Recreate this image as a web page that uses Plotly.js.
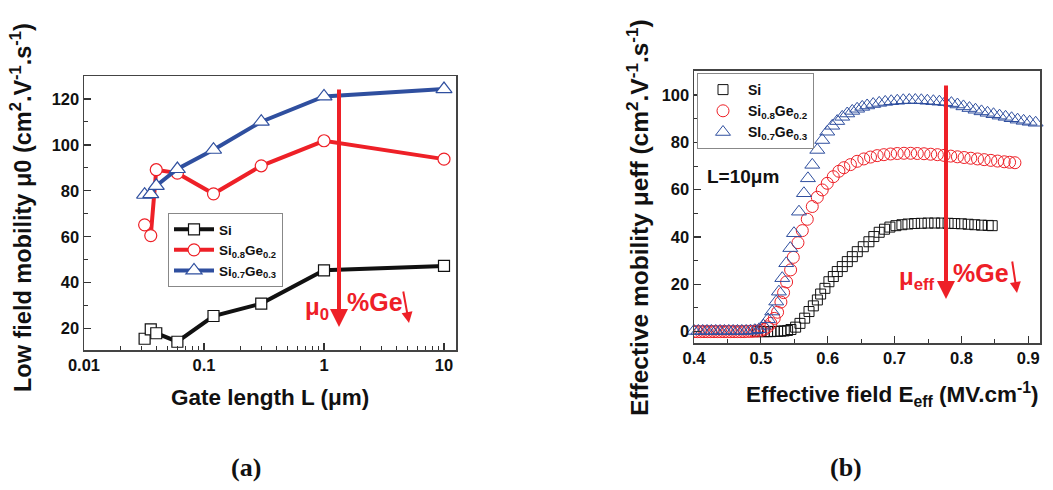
<!DOCTYPE html>
<html>
<head>
<meta charset="utf-8">
<script src="https://cdn.plot.ly/plotly-3.0.1.min.js"></script>
<style>html,body{margin:0;padding:0;background:#fff;}#chart{width:1053px;height:490px;}</style>
</head>
<body>
<div id="chart"></div>
<script>
// ---------- Panel (a): low field mobility vs gate length ----------
const gateLength = [0.032, 0.036, 0.04, 0.06, 0.12, 0.3, 1, 10];
const mu0_Si     = [15.6, 19.7, 18.0, 14.3, 25.5, 30.9, 45.4, 47.3];
const mu0_SiGe02 = [65.2, 60.5, 89.2, 87.7, 78.7, 90.9, 101.8, 93.8];
const mu0_SiGe03 = [78.3, 78.6, 82.2, 89.5, 97.9, 110.1, 121.1, 124.3];

// ---------- Panel (b): effective mobility vs effective field (L = 10 µm) ----------
const effField_Si = [0.495,0.500,0.505,0.510,0.515,0.520,0.525,0.530,0.535,0.540,
  0.545,0.552,0.5585,0.5655,0.572,0.5785,0.5845,0.5894,0.5958,0.6018,
  0.6084,0.6143,0.6218,0.6293,0.6368,0.6442,0.6532,0.6616,0.669,0.677,
  0.685,0.693,0.702,0.711,0.720,0.730,0.740,0.750,0.760,0.770,
  0.780,0.790,0.800,0.810,0.820,0.830,0.840,0.846];
const muEff_Si = [0.0,0.0,0.0,0.0,0.0,0.1,0.1,0.2,0.3,0.5,
  0.9,1.9,3.5,5.7,8.5,10.9,13.4,15.9,18.3,21.1,
  23.3,25.4,27.5,29.6,31.7,33.8,35.9,38.0,40.2,42.0,
  43.3,44.2,44.8,45.2,45.5,45.7,45.8,45.9,45.9,45.9,
  45.8,45.7,45.6,45.4,45.2,45.0,44.9,44.8];

const effField_SiGe02 = [0.400,0.405,0.410,0.415,0.420,0.425,0.430,0.435,0.440,0.445,
  0.450,0.455,0.460,0.465,0.470,0.475,0.480,0.485,0.490,0.495,0.500,
  0.505,0.510,0.515,0.520,0.525,0.530,0.534,0.5385,0.5445,0.5485,
  0.5555,0.562,0.5694,0.5769,0.5844,0.5918,0.5993,0.6083,0.6167,0.6242,
  0.634,0.644,0.654,0.664,0.674,0.684,0.694,0.704,0.714,0.724,
  0.734,0.744,0.754,0.764,0.774,0.784,0.794,0.804,0.814,0.824,
  0.834,0.844,0.854,0.864,0.872,0.880];
const muEff_SiGe02 = [0,0,0,0,0,0,0,0,0,0,
  0,0,0,0,0,0,0.1,0.1,0.2,0.3,0.5,
  1.0,2.0,3.5,5.6,8.2,12.5,16.5,21.0,26.1,31.4,
  37.6,42.7,47.5,52.9,56.8,59.9,62.7,65.5,67.8,69.3,
  70.6,72.0,73.0,73.8,74.4,74.8,75.1,75.3,75.4,75.4,
  75.3,75.2,75.0,74.8,74.5,74.2,73.9,73.6,73.3,73.0,
  72.7,72.4,72.1,71.8,71.6,71.4];

const effField_SiGe03 = [0.400,0.4065,0.413,0.4195,0.426,0.4325,0.439,0.4455,0.452,0.4585,
  0.465,0.4715,0.478,0.4845,0.491,0.4975,
  0.504,0.5106,0.517,0.523,0.527,0.532,0.538,0.544,0.5495,
  0.557,0.5644,0.5704,0.5769,0.5844,0.5918,0.5993,0.6068,0.6142,0.6217,
  0.6292,0.6367,0.644,0.6516,
  0.659,0.668,0.677,0.686,0.695,0.704,0.713,0.722,0.731,0.740,
  0.749,0.758,0.767,0.776,0.785,0.794,0.803,0.812,0.821,0.830,
  0.839,0.848,0.857,0.866,0.875,0.884,0.893,0.902,0.911,0.920,0.928];
const muEff_SiGe03 = [0.3,0.3,0.3,0.3,0.3,0.3,0.3,0.3,0.3,0.3,
  0.3,0.3,0.3,0.4,0.6,1.0,
  2.5,5.2,8.5,12.7,16.9,22.6,28.9,35.3,41.6,
  50.7,58.5,64.8,70.5,76.8,81.0,84.5,87.0,89.0,90.8,
  92.2,93.3,94.2,95.0,
  95.6,96.2,96.7,97.1,97.4,97.6,97.8,97.9,97.9,97.8,
  97.6,97.4,97.2,97.0,96.6,96.0,95.2,94.5,93.8,93.1,
  92.5,91.9,91.3,90.8,90.2,89.6,89.1,88.7,88.3,88.0,87.7];

// ---------- tick labels ----------
const gateTickVals = [0.01, 0.1, 1, 10];
const gateTickText = ['0.01', '0.1', '1', '10'];
const gateMinorVals = [0.02,0.03,0.04,0.05,0.06,0.07,0.08,0.09,0.2,0.3,0.4,0.5,0.6,0.7,0.8,0.9,2,3,4,5,6,7,8,9];

const BLACK = '#111111', RED = '#ee2027', BLUE = '#2f4f9f';
const FONT = 'Arial, "Liberation Sans", sans-serif';
const W = 1053, H = 490;
const px = v => v / W, py = v => 1 - v / H;

const traces = [
  {x: gateLength, y: mu0_Si, name: 'Si', type: 'scatter', mode: 'lines+markers',
   xaxis: 'x', yaxis: 'y', legend: 'legend',
   line: {color: BLACK, width: 4},
   marker: {symbol: 'square', size: 11, color: '#fff', line: {color: BLACK, width: 1.2}}},
  {x: gateLength, y: mu0_SiGe02, name: 'Si<sub>0.8</sub>Ge<sub>0.2</sub>', type: 'scatter', mode: 'lines+markers',
   xaxis: 'x', yaxis: 'y', legend: 'legend',
   line: {color: RED, width: 4},
   marker: {symbol: 'circle', size: 12, color: '#fff', line: {color: RED, width: 1.2}}},
  {x: gateLength, y: mu0_SiGe03, name: 'Si<sub>0.7</sub>Ge<sub>0.3</sub>', type: 'scatter', mode: 'lines+markers',
   xaxis: 'x', yaxis: 'y', legend: 'legend',
   line: {color: BLUE, width: 4},
   marker: {symbol: 'triangle-up', size: 14, color: '#fff', line: {color: BLUE, width: 1.2}}},

  {x: effField_Si, y: muEff_Si, name: 'Si', type: 'scatter', mode: 'markers',
   xaxis: 'x2', yaxis: 'y2', legend: 'legend2',
   marker: {symbol: 'square-open', size: 10, color: BLACK, line: {color: BLACK, width: 1}}},
  {x: effField_SiGe02, y: muEff_SiGe02, name: 'Si<sub>0.8</sub>Ge<sub>0.2</sub>', type: 'scatter', mode: 'markers',
   xaxis: 'x2', yaxis: 'y2', legend: 'legend2',
   marker: {symbol: 'circle-open', size: 12, color: RED, line: {color: RED, width: 1}}},
  {x: effField_SiGe03, y: muEff_SiGe03, name: 'SI<sub>0.7</sub>Ge<sub>0.3</sub>', type: 'scatter', mode: 'markers',
   xaxis: 'x2', yaxis: 'y2', legend: 'legend2', cliponaxis: false,
   marker: {symbol: 'triangle-up-open', size: 13, color: BLUE, line: {color: BLUE, width: 1}}}
];

const axisCommon = {
  showline: true, linecolor: '#444', linewidth: 1.5, mirror: true,
  showgrid: false, zeroline: false,
  ticks: 'inside', ticklen: 7, tickwidth: 1.2, tickcolor: '#333',
  tickfont: {family: FONT, size: 16.5, color: BLACK, weight: 'bold'}
};

const arrow = (xh, yh, xt, yt, w, s) => ({
  xref: 'paper', yref: 'paper', x: px(xh), y: py(yh),
  axref: 'pixel', ayref: 'pixel', ax: xt - xh, ay: yt - yh,
  text: '', showarrow: true, arrowhead: 2, arrowsize: s, arrowwidth: w, arrowcolor: RED
});
const label = (text, x, y, size, opts) => Object.assign({
  xref: 'paper', yref: 'paper', x: px(x), y: py(y), xanchor: 'center', yanchor: 'middle',
  text: text, showarrow: false, font: {family: FONT, size: size, color: BLACK, weight: 'bold'}
}, opts || {});

const layout = {
  width: W, height: H,
  margin: {l: 0, r: 0, t: 0, b: 0},
  paper_bgcolor: '#fff', plot_bgcolor: '#fff',
  font: {family: FONT, color: BLACK},
  showlegend: true,
  xaxis: Object.assign({}, axisCommon, {
    type: 'log', domain: [px(84), px(456)], range: [-2, 1.1], anchor: 'y',
    tickmode: 'array', tickvals: gateTickVals, ticktext: gateTickText,
    minor: {tickmode: 'array', tickvals: gateMinorVals, ticks: 'inside', ticklen: 4, tickcolor: '#333', tickwidth: 1}
  }),
  yaxis: Object.assign({}, axisCommon, {
    domain: [py(350), py(76)], range: [10.7, 130], anchor: 'x',
    tick0: 0, dtick: 20,
    minor: {tick0: 0, dtick: 10, ticks: 'inside', ticklen: 4, tickcolor: '#333', tickwidth: 1}
  }),
  xaxis2: Object.assign({}, axisCommon, {
    domain: [px(694), px(1040)], range: [0.4, 0.9175], anchor: 'y2',
    tick0: 0.4, dtick: 0.1, tickformat: '.1f',
    minor: {tick0: 0.4, dtick: 0.05, ticks: 'inside', ticklen: 4, tickcolor: '#333', tickwidth: 1}
  }),
  yaxis2: Object.assign({}, axisCommon, {
    domain: [py(343), py(70.7)], range: [-4.8, 110.3], anchor: 'x2',
    tick0: 0, dtick: 20,
    minor: {tick0: 0, dtick: 10, ticks: 'inside', ticklen: 4, tickcolor: '#333', tickwidth: 1}
  }),
  legend: {
    x: px(168), y: py(213), xanchor: 'left', yanchor: 'top',
    bgcolor: '#fff', bordercolor: '#888', borderwidth: 1,
    font: {family: FONT, size: 13.5, color: BLACK, weight: 'bold'},
    itemwidth: 40, tracegroupgap: 0
  },
  legend2: {
    x: px(697), y: py(73), xanchor: 'left', yanchor: 'top',
    bgcolor: '#fff', bordercolor: '#888', borderwidth: 1,
    font: {family: FONT, size: 14, color: BLACK, weight: 'bold'},
    itemwidth: 40, tracegroupgap: 0
  },
  annotations: [
    // axis titles
    label('Gate length L (μm)', 270, 397, 22.5),
    label('Effective field E<sub>eff</sub> (MV.cm<sup>-1</sup>)', 892, 394, 22.5),
    label('Low field mobility μ0 (cm<sup>2</sup>.V<sup>-1</sup>.s<sup>-1</sup>)', 21, 208, 23.5, {textangle: -90}),
    label('Effective mobility μeff (cm<sup>2</sup>.V<sup>-1</sup>.s<sup>-1</sup>)', 637, 218, 24.5, {textangle: -90}),
    // panel labels
    label('(a)', 246, 467, 26, {font: {family: '"Liberation Serif", "DejaVu Serif", serif', size: 26, color: BLACK, weight: 'bold'}}),
    label('(b)', 846, 467, 26, {font: {family: '"Liberation Serif", "DejaVu Serif", serif', size: 26, color: BLACK, weight: 'bold'}}),
    // L = 10 µm
    label('L=10μm', 743, 176, 19),
    // panel (a) arrows & text
    arrow(339, 327, 339, 88, 4, 0.9),
    arrow(409, 323, 403, 290, 2, 1.1),
    label('μ<sub>0</sub>', 317, 308, 24, {font: {family: FONT, size: 24, color: RED, weight: 'bold'}}),
    label('%Ge', 375, 302, 25, {font: {family: FONT, size: 25, color: RED, weight: 'bold'}}),
    // panel (b) arrows & text
    arrow(946, 299, 946, 84, 4, 0.9),
    arrow(1017, 293, 1012, 260, 2, 1.1),
    label('μ<sub>eff</sub>', 917, 278, 24, {font: {family: FONT, size: 24, color: RED, weight: 'bold'}}),
    label('%Ge', 981, 273, 25, {font: {family: FONT, size: 25, color: RED, weight: 'bold'}})
  ]
};

Plotly.newPlot('chart', traces, layout, {displayModeBar: false, staticPlot: true});
</script>
</body>
</html>
